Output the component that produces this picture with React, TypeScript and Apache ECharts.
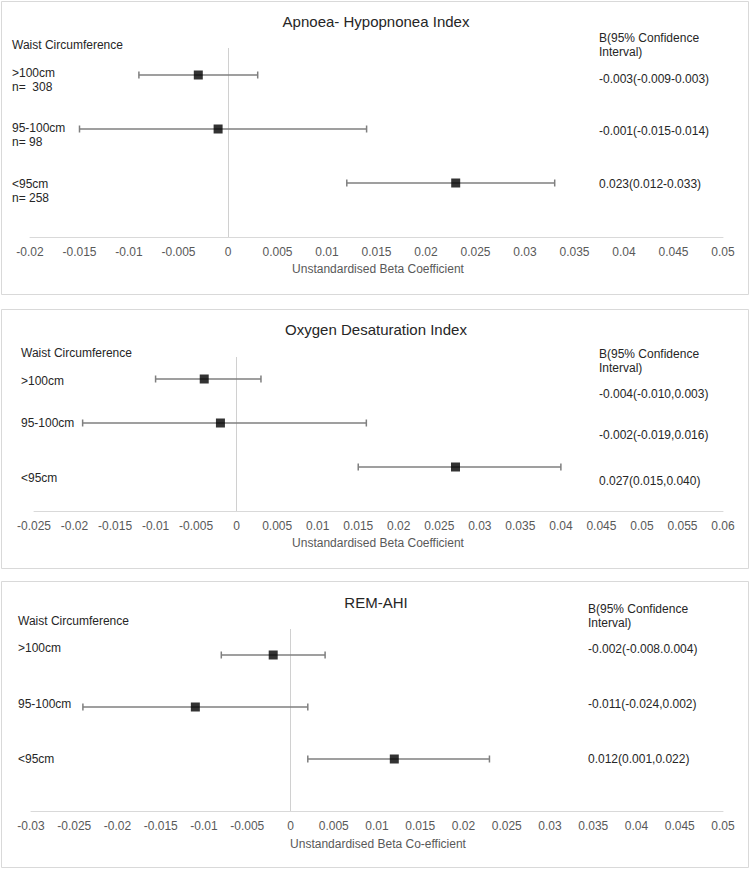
import React, { useEffect, useRef } from "react";
import * as echarts from "echarts";

// ---------- data ----------
const categories = [">100cm", "95-100cm", "<95cm"];
const sampleSizes = ["n=  308", "n= 98", "n= 258"];

const ahiBeta = [-0.003, -0.001, 0.023];
const ahiLow = [-0.009, -0.015, 0.012];
const ahiHigh = [0.003, 0.014, 0.033];
const ahiCI = ["-0.003(-0.009-0.003)", "-0.001(-0.015-0.014)", "0.023(0.012-0.033)"];

const odiBeta = [-0.004, -0.002, 0.027];
const odiLow = [-0.01, -0.019, 0.015];
const odiHigh = [0.003, 0.016, 0.04];
const odiCI = ["-0.004(-0.010,0.003)", "-0.002(-0.019,0.016)", "0.027(0.015,0.040)"];

const remBeta = [-0.002, -0.011, 0.012];
const remLow = [-0.008, -0.024, 0.002];
const remHigh = [0.004, 0.002, 0.023];
const remCI = ["-0.002(-0.008.0.004)", "-0.011(-0.024,0.002)", "0.012(0.001,0.022)"];

const titles = ["Apnoea- Hypopnonea Index", "Oxygen Desaturation Index", "REM-AHI"];
const axisTitles = [
  "Unstandardised Beta Coefficient",
  "Unstandardised Beta Coefficient",
  "Unstandardised Beta Co-efficient",
];
const xMins = [-0.02, -0.025, -0.03];
const xMaxs = [0.05, 0.06, 0.05];
const tickStep = 0.005;

// ---------- layout ----------
const FONT = "'Liberation Sans', Arial, sans-serif";
const panels = [
  {
    box: [1, 1, 747, 293],
    grid: { left: 30, top: 48, width: 693, height: 189 },
    titleY: 21, waist: [12, 45], axisTitleY: 269,
    leftX: 12, catY: [73, 128, 184], nY: [87, 142, 198],
    rightX: 599, headY: [38, 52], ciY: [79, 131, 184],
    beta: ahiBeta, low: ahiLow, high: ahiHigh, ci: ahiCI, showN: true,
  },
  {
    box: [1, 309, 747, 259],
    grid: { left: 34, top: 357, width: 689, height: 154 },
    titleY: 329, waist: [21, 353], axisTitleY: 543,
    leftX: 21, catY: [381, 423, 478], nY: [],
    rightX: 599, headY: [354, 368], ciY: [394, 435, 481],
    beta: odiBeta, low: odiLow, high: odiHigh, ci: odiCI, showN: false,
  },
  {
    box: [1, 581, 747, 286],
    grid: { left: 31, top: 629, width: 692, height: 182 },
    titleY: 602, waist: [18, 621], axisTitleY: 844,
    leftX: 18, catY: [648, 704, 759], nY: [],
    rightX: 588, headY: [609, 623], ciY: [649, 704, 759],
    beta: remBeta, low: remLow, high: remHigh, ci: remCI, showN: false,
  },
];

function txt(text: string, x: number, y: number, size: number, color: string, align = "left") {
  return {
    type: "text",
    x,
    y,
    silent: true,
    style: {
      text,
      fill: color,
      font: `${size}px ${FONT}`,
      textAlign: align,
      textVerticalAlign: "middle",
    },
  };
}

export default function App() {
  const ref = useRef<HTMLDivElement>(null);
  useEffect(() => {
    if (!ref.current) return;
    const chart = echarts.init(ref.current, null, { renderer: "svg" });

    const grids: any[] = [];
    const xAxes: any[] = [];
    const yAxes: any[] = [];
    const series: any[] = [];
    const graphics: any[] = [];

    panels.forEach((p, i) => {
      grids.push({ ...p.grid });
      xAxes.push({
        type: "value",
        gridIndex: i,
        min: xMins[i],
        max: xMaxs[i],
        interval: tickStep,
        axisLine: { show: true, onZero: false, lineStyle: { color: "#d9d9d9", width: 1 } },
        axisTick: { show: false },
        splitLine: { show: false },
        axisLabel: {
          color: "#595959",
          fontSize: 12,
          fontFamily: FONT,
          margin: 9,
          formatter: (v: number) => String(parseFloat(v.toFixed(4))),
        },
      });
      yAxes.push({
        type: "value",
        gridIndex: i,
        min: 0,
        max: 3.5,
        show: false,
      });
      const n = categories.length;
      series.push({
        type: "custom",
        xAxisIndex: i,
        yAxisIndex: i,
        silent: true,
        encode: { x: [1, 2], y: 0 },
        data: categories.map((_, k) => [n - k, p.low[k], p.high[k]]),
        renderItem: (params: any, api: any) => {
          const y = api.value(0);
          const a = api.coord([api.value(1), y]);
          const b = api.coord([api.value(2), y]);
          const style = { stroke: "#7f7f7f", lineWidth: 1.5 };
          return {
            type: "group",
            children: [
              { type: "line", shape: { x1: a[0], y1: a[1], x2: b[0], y2: b[1] }, style },
              { type: "line", shape: { x1: a[0], y1: a[1] - 3.5, x2: a[0], y2: a[1] + 3.5 }, style },
              { type: "line", shape: { x1: b[0], y1: b[1] - 3.5, x2: b[0], y2: b[1] + 3.5 }, style },
            ],
          };
        },
        z: 3,
      });
      series.push({
        type: "scatter",
        xAxisIndex: i,
        yAxisIndex: i,
        symbol: "rect",
        symbolSize: 9,
        itemStyle: { color: "#000" },
        data: categories.map((_, k) => [p.beta[k], n - k]),
        z: 4,
        markLine: {
          silent: true,
          symbol: ["none", "none"],
          label: { show: false },
          lineStyle: { color: "#d0d0d0", type: "solid", width: 1 },
          data: [{ xAxis: 0 }],
          z: 1,
        },
      });

      // panel border
      graphics.push({
        type: "rect",
        silent: true,
        shape: { x: p.box[0] + 0.5, y: p.box[1] + 0.5, width: p.box[2], height: p.box[3] },
        style: { fill: "none", stroke: "#d9d9d9", lineWidth: 1 },
        z: -10,
      });
      graphics.push(txt(titles[i], 376, p.titleY, 15, "#262626", "center"));
      graphics.push(txt("Waist Circumference", p.waist[0], p.waist[1], 12, "#262626"));
      graphics.push(txt(axisTitles[i], 378, p.axisTitleY, 12, "#595959", "center"));
      graphics.push(txt("B(95% Confidence", p.rightX, p.headY[0], 12, "#262626"));
      graphics.push(txt("Interval)", p.rightX, p.headY[1], 12, "#262626"));
      categories.forEach((c, k) => {
        graphics.push(txt(c, p.leftX, p.catY[k], 12, "#262626"));
        if (p.showN) graphics.push(txt(sampleSizes[k], p.leftX, p.nY[k], 12, "#262626"));
        graphics.push(txt(p.ci[k], p.rightX, p.ciY[k], 12, "#262626"));
      });
    });

    chart.setOption({
      animation: false,
      backgroundColor: "#ffffff",
      grid: grids,
      xAxis: xAxes,
      yAxis: yAxes,
      series,
      graphic: graphics,
    });
    return () => chart.dispose();
  }, []);

  return (
    <div
      ref={ref}
      style={{ position: "fixed", left: 0, top: 0, width: 753, height: 876 }}
    />
  );
}
